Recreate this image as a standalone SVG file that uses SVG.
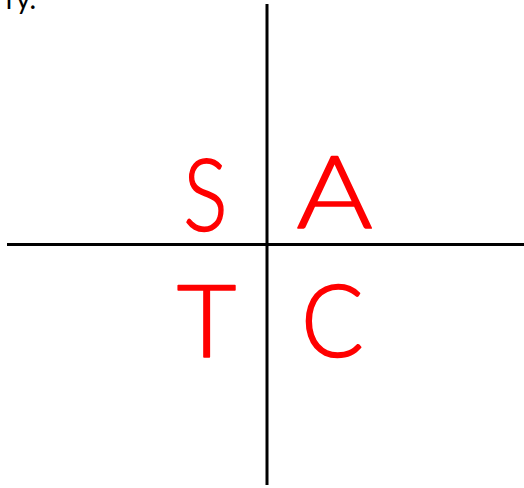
<svg xmlns="http://www.w3.org/2000/svg" width="524" height="488" viewBox="0 0 524 488">
<style>
.ax{stroke:#000;stroke-width:3;fill:none}
.lt{fill:#ff0000;stroke:#ff0000;stroke-width:1.6;stroke-linejoin:round;font-family:Lato,"Open Sans",sans-serif;font-weight:300;font-size:101px;text-anchor:middle}
.tx{fill:#000;font-family:Lato,"Open Sans",sans-serif;font-size:28px}
</style>
<rect width="524" height="488" fill="#fff"/>
<text class="tx" x="36" y="9" text-anchor="end">ry.</text>
<g id="connectors">
<line class="ax" x1="267" y1="4" x2="267" y2="485"/>
<line class="ax" x1="7" y1="244.5" x2="524" y2="244.5"/>
</g>
<g id="S" transform="translate(205.5 0) scale(0.82 1)"><text class="lt" x="0" y="231">S</text></g>
<g id="A" transform="translate(334.5 0) scale(1.15 1)"><text class="lt" x="0" y="228">A</text></g>
<g id="T" transform="translate(206.5 0) scale(1.02 1)"><text class="lt" x="0" y="357">T</text></g>
<g id="C" transform="translate(332.5 0) scale(0.92 1)"><text class="lt" x="0" y="357">C</text></g>
</svg>
